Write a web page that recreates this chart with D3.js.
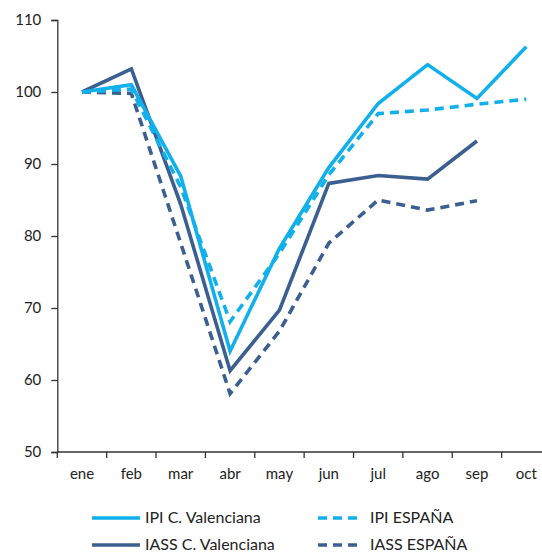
<!DOCTYPE html>
<html>
<head>
<meta charset="utf-8">
<script src="https://cdn.jsdelivr.net/npm/d3@7"></script>
<style>
  body { margin: 0; background: #fff; }
  text { font-family: Lato, "Open Sans", sans-serif; fill: #222; }
</style>
</head>
<body>
<svg id="chart" width="542" height="552"></svg>
<script>
// Months and series (index values, Jan = 100)
const months = ["ene", "feb", "mar", "abr", "may", "jun", "jul", "ago", "sep", "oct"];
const ipiCV   = [100, 101.0, 88.3, 64.0, 78.3, 89.5, 98.4, 103.8, 99.1, 106.3];
const ipiEsp  = [100, 100.4, 86.8, 68.1, 77.6, 88.5, 97.0, 97.5, 98.3, 99.0];
const iassCV  = [100, 103.2, 84.4, 61.3, 69.7, 87.3, 88.4, 87.9, 93.2];
const iassEsp = [100, 99.8, 79.0, 58.1, 66.8, 79.0, 85.0, 83.6, 84.9];
const yTicks = [50, 60, 70, 80, 90, 100, 110];

const lightBlue = "#12b0ea";
const darkBlue = "#3a5f90";

const series = [
    { name: "IPI C. Valenciana", values: ipiCV, color: lightBlue, dash: null },
    { name: "IPI ESPAÑA", values: ipiEsp, color: lightBlue, dash: "9,6" },
    { name: "IASS C. Valenciana", values: iassCV, color: darkBlue, dash: null },
    { name: "IASS ESPAÑA", values: iassEsp, color: darkBlue, dash: "9,6" }
];

const svg = d3.select("#chart");

const x = d3.scaleBand().domain(months).range([57.3, 551]);
const y = d3.scaleLinear().domain([50, 110]).range([452, 20]);

// y axis
const yAxis = svg.append("g")
    .attr("transform", "translate(57.3,0)")
    .call(d3.axisLeft(y).tickValues(yTicks).tickSize(6).tickPadding(10));
yAxis.select(".domain").attr("stroke", "#333").attr("stroke-width", 1.3);
yAxis.selectAll(".tick line").attr("stroke", "#333").attr("stroke-width", 1.3);
yAxis.selectAll("text").attr("font-size", 15).attr("fill", "#222")
    .attr("font-family", "Lato, sans-serif");

// x axis: ticks at band edges
const xAxis = svg.append("g")
    .attr("transform", "translate(0,452)");
xAxis.append("line")
    .attr("x1", x.range()[0]).attr("x2", x.range()[1])
    .attr("stroke", "#333").attr("stroke-width", 1.3);
xAxis.selectAll("line.tk")
    .data(months.concat(["_end"]))
    .join("line")
    .attr("class", "tk")
    .attr("x1", (d, i) => x.range()[0] + i * x.step())
    .attr("x2", (d, i) => x.range()[0] + i * x.step())
    .attr("y1", 0).attr("y2", 6)
    .attr("stroke", "#333").attr("stroke-width", 1.3);
xAxis.selectAll("text")
    .data(months)
    .join("text")
    .attr("x", d => x(d) + x.bandwidth() / 2)
    .attr("y", 27)
    .attr("text-anchor", "middle")
    .attr("font-size", 15)
    .text(d => d);

// lines
const line = d3.line()
    .x((d, i) => x(months[i]) + x.bandwidth() / 2)
    .y(d => y(d));

svg.append("g")
    .selectAll("path")
    .data(series.slice().reverse())
    .join("path")
    .attr("d", d => line(d.values))
    .attr("fill", "none")
    .attr("stroke", d => d.color)
    .attr("stroke-width", 3.6)
    .attr("stroke-dasharray", d => d.dash)
    .attr("stroke-linejoin", "miter");

// legend
const legend = svg.append("g");
const legPos = [
    { lx: 92, tx: 145, y: 518, ty: 523 },
    { lx: 318, tx: 370, y: 518, ty: 523 },
    { lx: 92, tx: 145, y: 545, ty: 550 },
    { lx: 318, tx: 370, y: 545, ty: 550 }
];
series.forEach((s, i) => {
    const p = legPos[i];
    legend.append("line")
        .attr("x1", p.lx).attr("x2", s.dash ? p.lx + 44 : p.lx + 48)
        .attr("y1", p.y).attr("y2", p.y)
        .attr("stroke", s.color)
        .attr("stroke-width", 3.6)
        .attr("stroke-dasharray", s.dash ? "9,6" : null);
    legend.append("text")
        .attr("x", p.tx).attr("y", p.ty)
        .attr("font-size", 16)
        .text(s.name);
});
</script>
</body>
</html>
